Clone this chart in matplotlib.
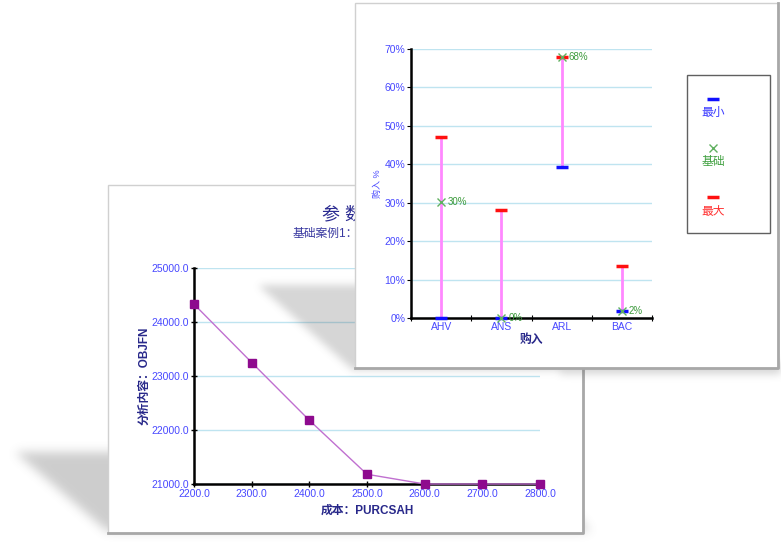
import numpy as np
import matplotlib.pyplot as plt
from matplotlib.path import Path
from matplotlib.patches import Rectangle

plt.rcParams['font.family'] = ['Liberation Sans', 'Noto Sans CJK SC', 'DejaVu Sans']

# back chart: line
cost = [2200, 2300, 2400, 2500, 2600, 2700, 2800]
objfn = [24330, 23250, 22180, 21180, 21000, 21000, 21000]

# front chart: ranges
cats = ['AHV', 'ANS', 'ARL', 'BAC']
v_min = [0.0, 0.0, 39.3, 1.7]
v_base = [30.2, 0.0, 67.8, 1.7]
v_max = [47.0, 28.0, 67.8, 13.5]
base_lbl = ['30%', '0%', '68%', '2%']

W, H = 781, 549
fig = plt.figure(figsize=(W / 100, H / 100), dpi=100)
fig.patch.set_facecolor('white')

tick_c = '#4848ff'
lab_c = '#28288a'


def shadow(polys, sigma, alpha):
    yy, xx = np.mgrid[0:H, 0:W]
    pts = np.column_stack([xx.ravel() + 0.5, yy.ravel() + 0.5])
    m = np.zeros(H * W)
    for p in polys:
        m = np.maximum(m, Path(p).contains_points(pts).astype(float))
    m = m.reshape(H, W)
    k = int(sigma * 3)
    g = np.exp(-0.5 * (np.arange(-k, k + 1) / sigma) ** 2)
    g /= g.sum()
    m = np.apply_along_axis(lambda r: np.convolve(r, g, mode='same'), 1, m)
    m = np.apply_along_axis(lambda c: np.convolve(c, g, mode='same'), 0, m)
    img = np.zeros((H, W, 4))
    img[..., :3] = 0.35
    img[..., 3] = m * alpha
    return img


def layer(z):
    a = fig.add_axes([0, 0, 1, 1], zorder=z)
    a.set_xlim(0, W)
    a.set_ylim(H, 0)
    a.axis('off')
    a.patch.set_alpha(0)
    return a


# ---- back panel
bg = layer(0)
bg.imshow(shadow([[(15, 452), (520, 452), (590, 531), (107, 531)]], 5, 0.3),
          extent=(0, W, H, 0), interpolation='bilinear')
bg.add_patch(Rectangle((108, 185), 475, 348, facecolor='white', edgecolor='#d0d0d0', lw=1))
bg.plot([108, 583, 583], [533, 533, 185], color='#a8a8a8', lw=2)
bg.text(322, 216, '参 数 分 析', color='#2a2a90', fontsize=13, va='center')
bg.text(293, 234, '基础案例1：成本', color='#3838a0', fontsize=8.5, va='center')

ax1 = fig.add_axes([194 / W, 1 - 484 / H, 346 / W, 216 / H], zorder=1)
ax1.patch.set_alpha(0)
ax1.plot(cost, objfn, color='#c070d0', lw=1, marker='s', ms=6,
         mfc='#8e0a8e', mec='#8e0a8e', zorder=5, clip_on=False)
ax1.set_xlim(2200, 2800)
ax1.set_ylim(21000, 25000)
ax1.set_xticks(cost)
ax1.set_yticks(range(21000, 25001, 1000))
ax1.xaxis.set_major_formatter('{x:.1f}')
ax1.yaxis.set_major_formatter('{x:.1f}')
ax1.grid(axis='y', color='#bfe4f0', lw=1)
ax1.set_axisbelow(True)
for s in ['top', 'right']:
    ax1.spines[s].set_visible(False)
for s in ['left', 'bottom']:
    ax1.spines[s].set_linewidth(1.8)
ax1.tick_params(direction='inout', length=5, width=1, labelsize=7.5, labelcolor=tick_c, pad=1)
ax1.set_xlabel('成本：PURCSAH', color=lab_c, fontsize=8.5, fontweight='bold', labelpad=4)
ax1.set_ylabel('分析内容：OBJFN', color=lab_c, fontsize=8.5, fontweight='bold', labelpad=1)

# ---- front panel
fg = layer(2)
fg.imshow(shadow([[(258, 285), (640, 285), (720, 370), (353, 370)],
                  [(560, 362), (781, 362), (781, 374), (560, 374)]], 4, 0.25),
          extent=(0, W, H, 0), interpolation='bilinear')
fg.add_patch(Rectangle((355, 3), 423, 365, facecolor='white', edgecolor='#d0d0d0', lw=1))
fg.plot([355, 778, 778], [368, 368, 3], color='#a8a8a8', lw=2)

# legend
fg.add_patch(Rectangle((687, 75), 83, 158, facecolor='white', edgecolor='#606060', lw=1))
fg.plot([713], [99], marker='_', ms=8, mew=2.5, color='#1010ff')
fg.text(713, 113, '最小', color='#3a3aff', fontsize=8.5, ha='center', va='center')
fg.plot([713], [148], marker='x', ms=6, mew=1, color='#60b060')
fg.text(713, 162, '基础', color='#40a040', fontsize=8.5, ha='center', va='center')
fg.plot([713], [197], marker='_', ms=8, mew=2.5, color='#ff1010')
fg.text(713, 212, '最大', color='#ff3030', fontsize=8.5, ha='center', va='center')

ax2 = fig.add_axes([411 / W, 1 - 318 / H, 241 / W, 269 / H], zorder=3)
ax2.patch.set_alpha(0)
xs = np.arange(len(cats)) + 0.5
ax2.vlines(xs, v_min, v_max, color='#ff88ff', lw=2, zorder=3)
ax2.plot(xs, v_max, ls='none', marker='_', ms=8, mew=2.5, color='#ff1010', zorder=4, clip_on=False)
ax2.plot(xs, v_min, ls='none', marker='_', ms=8, mew=2.5, color='#1010ff', zorder=4, clip_on=False)
ax2.plot(xs, v_base, ls='none', marker='x', ms=6, mew=1, color='#60b060', zorder=5, clip_on=False)
for x, y, t in zip(xs, v_base, base_lbl):
    ax2.annotate(t, (x, y), xytext=(5, 0), textcoords='offset points',
                 color='#3c9a3c', fontsize=7, va='center', zorder=6)
ax2.set_xlim(0, 4)
ax2.set_ylim(0, 70)
ax2.set_xticks(range(5))
ax2.set_xticklabels([])
ax2.set_xticks(xs, minor=True)
ax2.set_xticklabels(cats, minor=True)
ax2.set_yticks(range(0, 71, 10))
ax2.yaxis.set_major_formatter('{x:.0f}%')
ax2.grid(axis='y', color='#bfe4f0', lw=1)
ax2.set_axisbelow(True)
for s in ['top', 'right']:
    ax2.spines[s].set_visible(False)
for s in ['left', 'bottom']:
    ax2.spines[s].set_linewidth(1.8)
ax2.tick_params(axis='x', which='major', direction='inout', length=5)
ax2.tick_params(axis='x', which='minor', length=0, labelsize=7.5, labelcolor=tick_c, pad=3)
ax2.tick_params(axis='y', direction='out', length=3, labelsize=7.5, labelcolor=tick_c, pad=1)
ax2.set_xlabel('购入', color=lab_c, fontsize=8.5, fontweight='bold', labelpad=1)
ax2.set_ylabel('购入 %', color=tick_c, fontsize=6.5, labelpad=2)

fig.savefig('out.png', dpi=100)
